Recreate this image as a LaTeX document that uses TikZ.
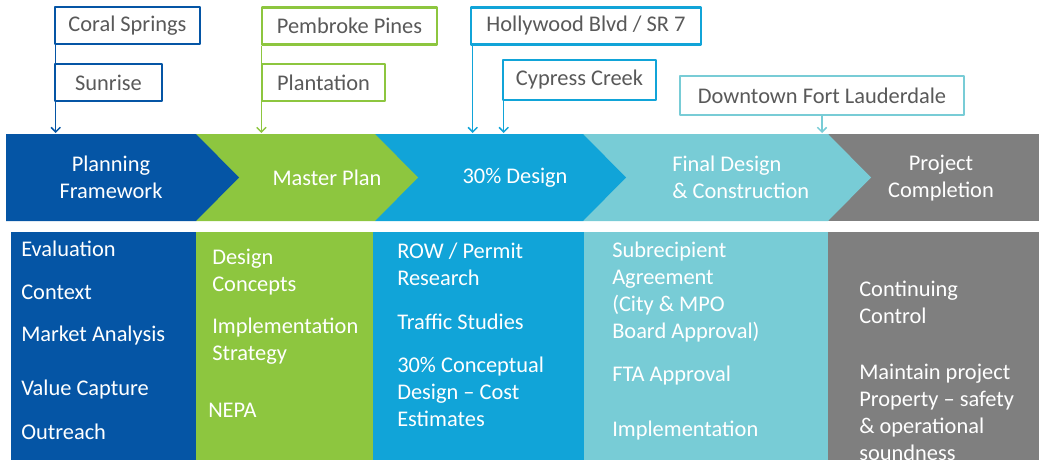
\documentclass[tikz,border=0pt]{standalone}
\usepackage{fontspec}
\setmainfont{Carlito}
\usetikzlibrary{arrows.meta}
\definecolor{planblue}{RGB}{5,85,165}
\definecolor{mastergreen}{RGB}{141,198,63}
\definecolor{designcyan}{RGB}{17,164,216}
\definecolor{finalcyan}{RGB}{120,204,214}
\definecolor{stopgray}{RGB}{127,127,127}
\definecolor{labelgray}{RGB}{89,89,89}
\begin{document}
\begin{tikzpicture}[x=0.75pt,y=-0.75pt,line join=round,
	font=\fontsize{16.8}{20.25}\selectfont,
	tag/.style={draw,fill=white,line width=1.9pt,text=labelgray,inner sep=0pt,minimum height=28pt},
	link/.style={line width=1.1pt,-{Straight Barb[length=3.5pt,width=7pt]}},
	phase/.style={text=white,align=center,inner sep=0pt},
	item/.style={text=white,align=left,anchor=west,inner sep=0pt}]
	\useasboundingbox (0,0) rectangle (1039,460);
	\clip (0,0) rectangle (1039,460);
	\coordinate (bandtop) at (0,133);
	% chevron band
	\fill[stopgray] (828,134) rectangle (1039,221);
	\foreach \xa/\xb/\col in {583/828/finalcyan,375/583/designcyan,196/375/mastergreen,6/196/planblue}
		\fill[\col] (\xa,134) -- (\xb,134) -- (\xb+43,177.5) -- (\xb,221) -- (\xa,221) -- cycle;
	% columns
	\foreach \xa/\xb/\col in {11/196/planblue,196/373/mastergreen,373/584/designcyan,584/828/finalcyan,828/1039/stopgray}
		\fill[\col] (\xa,232) rectangle (\xb,465);
	% phases
	\node[phase] (planning) at (111,177) {Planning\\Framework};
	\node[phase] (master) at (327,178) {Master Plan};
	\node[phase] (design) at (515,178) {30\% Design};
	\node[phase,align=left,anchor=west] (final) at (672,177) {Final Design\\\& Construction};
	\node[phase] (completion) at (941,178) {Project\\Completion};
	% cities
	\node[tag,draw=planblue,minimum width=108.75pt] (coral) at (127.5,25.5) {Coral Springs};
	\node[tag,draw=planblue,minimum width=80.25pt] (sunrise) at (108.5,82.5) {Sunrise};
	\node[tag,draw=mastergreen,minimum width=131.25pt] (pembroke) at (349.5,26) {Pembroke Pines};
	\node[tag,draw=mastergreen,minimum width=92.25pt] (plantation) at (323.5,82.5) {Plantation};
	\node[tag,draw=designcyan,minimum width=172.5pt] (hollywood) at (586,26) {Hollywood Blvd / SR 7};
	\node[tag,draw=designcyan,minimum width=114.75pt,minimum height=30pt] (cypress) at (579.5,80) {Cypress Creek};
	\node[tag,draw=finalcyan,minimum width=213pt,minimum height=29pt] (downtown) at (822,95.5) {Downtown Fort Lauderdale};
	\draw[link,planblue] ([xshift=1.5pt]coral.south west) -- ([xshift=1.5pt]coral.south west |- bandtop);
	\draw[link,mastergreen] ([xshift=0.5pt]pembroke.south west) -- ([xshift=0.5pt]pembroke.south west |- bandtop);
	\draw[link,designcyan] ([xshift=2.25pt]hollywood.south west) -- ([xshift=2.25pt]hollywood.south west |- bandtop);
	\draw[link,designcyan] ([xshift=1.5pt]cypress.south west) -- ([xshift=1.5pt]cypress.south west |- bandtop);
	\draw[link,finalcyan] (downtown.south) -- (downtown.south |- bandtop);
	% tasks
	\node[item] (evaluation) at (21,249) {Evaluation};
	\node[item] (context) at (21,292) {Context};
	\node[item] (market) at (21,336) {Market Analysis};
	\node[item] (capture) at (21,390) {Value Capture};
	\node[item] (outreach) at (21,432) {Outreach};
	\node[item] (concepts) at (212,272) {Design\\Concepts};
	\node[item] (strategy) at (212,341) {Implementation\\Strategy};
	\node[item] (nepa) at (208,410) {NEPA};
	\node[item] (row) at (397,264) {ROW / Permit\\Research};
	\node[item] (traffic) at (397,322) {Traffic Studies};
	\node[item] (conceptual) at (397,392) {30\% Conceptual\\Design -- Cost\\Estimates};
	\node[item] (subrecipient) at (612,292) {Subrecipient\\Agreement\\(City \& MPO\\Board Approval)};
	\node[item] (fta) at (612,376) {FTA Approval};
	\node[item] (implementation) at (612,431) {Implementation};
	\node[item] (continuing) at (859,302) {Continuing\\Control};
	\node[item] (maintain) at (859,412.5) {Maintain project\\Property -- safety\\\& operational\\soundness};
\end{tikzpicture}
\end{document}
